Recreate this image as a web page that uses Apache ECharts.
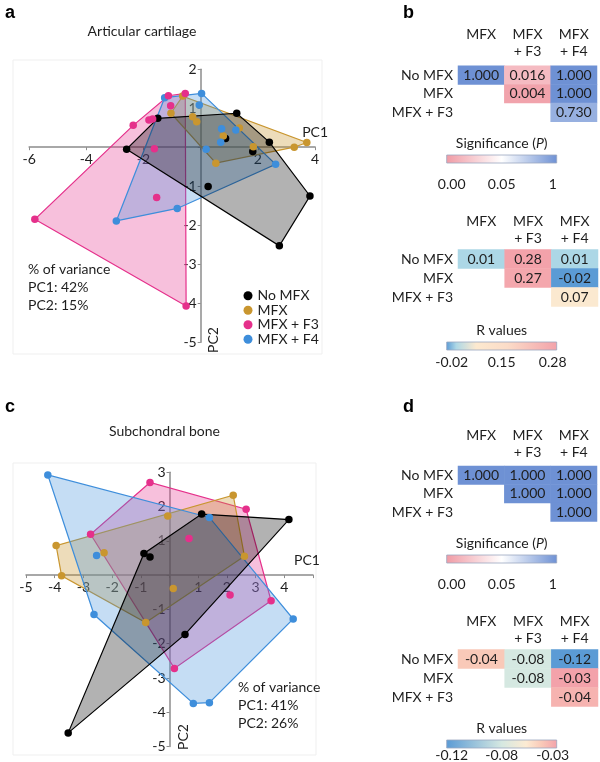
<!DOCTYPE html>
<html><head><meta charset="utf-8">
<script src="https://cdn.jsdelivr.net/npm/echarts@6/dist/echarts.min.js"></script>
<style>html,body{margin:0;padding:0;background:#fff}#c{width:600px;height:762px}</style>
</head><body><div id="c"></div>
<script>
// ---------------- DATA ----------------
const groups = ['No MFX', 'MFX', 'MFX + F3', 'MFX + F4'];
// Panel a: Articular cartilage (PC1, PC2)
const aNoMFX = [[-2.59,-0.05],[-1.50,0.74],[1.26,0.87],[2.40,0.13],[1.82,-0.11],[0.87,0.22],[0.26,-1.01],[3.82,-1.25],[2.75,-2.53]];
const aMFX   = [[-0.63,1.31],[-1.04,0.87],[-0.28,0.78],[-0.14,0.65],[1.35,0.49],[0.79,0.29],[1.84,0.01],[3.27,0.00],[3.71,0.12],[0.53,-0.41]];
const aF3    = [[-1.13,1.32],[-0.54,1.38],[-1.05,1.06],[-1.81,0.70],[-1.68,0.72],[-2.36,0.56],[-1.62,-0.04],[-1.54,-1.29],[-5.80,-1.85],[-0.51,-4.07]];
const aF4    = [[-1.26,1.27],[0.03,1.38],[-0.05,1.08],[0.73,0.47],[1.23,0.44],[0.70,0.13],[0.19,-0.05],[2.62,-0.44],[-0.82,-1.57],[-2.95,-1.89]];
// Panel c: Subchondral bone
const cNoMFX = [[-0.89,0.63],[-0.68,0.53],[1.12,1.78],[4.16,1.62],[0.54,-1.73],[-3.53,-4.60]];
const cMFX   = [[-3.95,0.86],[-3.76,-0.02],[-2.28,0.65],[-0.06,1.72],[0.13,-0.39],[2.22,2.33],[2.61,0.55],[-0.83,-1.38]];
const cF3    = [[-0.68,2.70],[-2.75,1.19],[0.68,1.07],[2.67,1.92],[2.11,-0.58],[3.54,-0.75],[0.17,-2.72]];
const cF4    = [[-4.24,2.92],[-2.54,0.57],[1.39,1.68],[4.31,-1.28],[1.39,-3.72],[0.83,-3.74],[-2.63,-1.15]];
const varianceA = ['% of variance', 'PC1: 42%', 'PC2: 15%'];
const varianceC = ['% of variance', 'PC1: 41%', 'PC2: 26%'];
// Tables b and d
const rowLabels = ['No MFX', 'MFX', 'MFX + F3'];
const colLabels = ['MFX', 'MFX\n+ F3', 'MFX\n+ F4'];
const sigB = [[1.000, 0.016, 1.000], [null, 0.004, 1.000], [null, null, 0.730]];
const rB   = [[0.01, 0.28, 0.01], [null, 0.27, -0.02], [null, null, 0.07]];
const sigD = [[1.000, 1.000, 1.000], [null, 1.000, 1.000], [null, null, 1.000]];
const rD   = [[-0.044, -0.08, -0.12], [null, -0.08, -0.03], [null, null, -0.036]];
const sigTicks = [0, 0.05, 1];
const sigTickLabels = ['0.00', '0.05', '1'];
const rBTicks = [-0.02, 0.15, 0.28];
const rDTicks = [-0.12, -0.08, -0.03];

// ---------------- STYLE ----------------
const FONT = 'Lato, "Open Sans", "Liberation Sans", sans-serif';
const TXT = '#1e1e1e';
const AXC = '#8c8c8c';
const COL = {
  'No MFX':   {c: '#000000', f: 'rgba(0,0,0,0.30)'},
  'MFX':      {c: '#C9962F', f: 'rgba(201,150,47,0.33)'},
  'MFX + F3': {c: '#E5308B', f: 'rgba(229,48,139,0.30)'},
  'MFX + F4': {c: '#3E8EDB', f: 'rgba(62,142,219,0.30)'}
};
const sigStops = [[0,'#F09BA5'],[0.5,'#FFFFFF'],[1,'#6E91D4']];
const rBStops  = [[0,'#5B9BD5'],[0.09,'#AED8E6'],[0.27,'#FDE9CF'],[0.55,'#FBDCC8'],[1,'#F3A2AA']];
const rDStops  = [[0,'#5B9BD5'],[0.5,'#D5E8E1'],[0.72,'#FCEBD3'],[0.86,'#F9C9B8'],[1,'#F3A2AA']];

// ---------------- HELPERS ----------------
function convexHull(pts){
  const p = pts.slice().sort((a,b)=>a[0]-b[0]||a[1]-b[1]);
  const cross=(o,a,b)=>(a[0]-o[0])*(b[1]-o[1])-(a[1]-o[1])*(b[0]-o[0]);
  const lower=[]; for(const q of p){while(lower.length>=2&&cross(lower[lower.length-2],lower[lower.length-1],q)<=0)lower.pop();lower.push(q);}
  const upper=[]; for(let i=p.length-1;i>=0;i--){const q=p[i];while(upper.length>=2&&cross(upper[upper.length-2],upper[upper.length-1],q)<=0)upper.pop();upper.push(q);}
  upper.pop(); lower.pop(); return lower.concat(upper);
}
function hex(h){return [1,3,5].map(i=>parseInt(h.substr(i,2),16));}
function colorAt(stops,t){
  t=Math.max(0,Math.min(1,t));
  for(let i=1;i<stops.length;i++){
    if(t<=stops[i][0]){
      const a=hex(stops[i-1][1]), b=hex(stops[i][1]);
      const k=(t-stops[i-1][0])/(stops[i][0]-stops[i-1][0]);
      return 'rgb('+a.map((v,j)=>Math.round(v+(b[j]-v)*k)).join(',')+')';
    }
  }
  return stops[stops.length-1][1];
}
function posOf(v,ticks){
  if(v<=ticks[1]) return 0.5*(v-ticks[0])/(ticks[1]-ticks[0]);
  return 0.5+0.5*(v-ticks[1])/(ticks[2]-ticks[1]);
}

const grids=[], xAxes=[], yAxes=[], series=[], graphic=[];
function pcaPanel(gi, grid, xr, yr, xInt, sets, pc1Gap){
  grids.push(grid);
  // place axes through the origin by offsetting them from the grid edges
  const xOff = -grid.height*(0-yr[0])/(yr[1]-yr[0]);
  const yOff = -grid.width*(0-xr[0])/(xr[1]-xr[0]);
  xAxes.push({gridIndex:gi, type:'value', min:xr[0], max:xr[1], interval:xInt, position:'bottom', offset:xOff,
    axisLine:{onZero:false, lineStyle:{color:AXC, width:1.5}},
    axisTick:{show:true, length:3, lineStyle:{color:AXC}},
    splitLine:{show:false},
    axisLabel:{fontSize:14, color:TXT, fontFamily:FONT, margin:5, formatter:v=>(v===0||v>=xr[2])?'':String(v)},
    name:'PC1', nameLocation:'end', nameGap:pc1Gap,
    nameTextStyle:{fontSize:14, color:TXT, fontFamily:FONT, align:'center', verticalAlign:'bottom', padding:[0,0,8,0]}});
  yAxes.push({gridIndex:gi, type:'value', min:yr[0], max:yr[1], interval:1, position:'left', offset:yOff,
    axisLine:{onZero:false, lineStyle:{color:AXC, width:1.5}},
    axisTick:{show:true, length:3, lineStyle:{color:AXC}},
    splitLine:{show:false},
    axisLabel:{fontSize:14, color:TXT, fontFamily:FONT, margin:4, formatter:v=>v===0?'':String(v)}});
  const hullOrder=['MFX + F3','MFX','MFX + F4','No MFX'];
  hullOrder.forEach(g=>{
    const hull=convexHull(sets[g]);
    series.push({type:'custom', name:g+' hull', xAxisIndex:gi, yAxisIndex:gi, silent:true, z:2,
      data:[hull[0]],
      renderItem:(params,api)=>({type:'polygon', shape:{points:hull.map(p=>api.coord(p))},
        style:{fill:COL[g].f, stroke:COL[g].c, lineWidth:1.2}})});
  });
  ['No MFX','MFX','MFX + F4','MFX + F3'].forEach(g=>{
    series.push({type:'scatter', name:g, xAxisIndex:gi, yAxisIndex:gi, z:4, silent:true,
      symbol:'circle', symbolSize:7.5, data:sets[g], itemStyle:{color:COL[g].c, opacity:1}});
  });
}
pcaPanel(0, {left:29.1, top:69.2, width:286, height:273}, [-6,4,99], [-5,2], 2,
  {'No MFX':aNoMFX,'MFX':aMFX,'MFX + F3':aF3,'MFX + F4':aF4}, 0);
pcaPanel(1, {left:26, top:472.2, width:287, height:274.4}, [-5,5,5], [-5,3], 1,
  {'No MFX':cNoMFX,'MFX':cMFX,'MFX + F3':cF3,'MFX + F4':cF4}, -6);

// tables
const tables = [
  {vals:sigB, dec:3, stops:sigStops, ticks:sigTicks, tickLabels:sigTickLabels, title:'sig', grid:{left:458, top:65.75, width:139, height:56}, hm:39.5, titleY:143, barY:155, labY:184},
  {vals:rB, dec:2, stops:rBStops, ticks:rBTicks, tickLabels:rBTicks.map(v=>v.toFixed(2)), title:'R values', grid:{left:458, top:249.5, width:140, height:57}, hm:36.5, titleY:330, barY:342, labY:362},
  {vals:sigD, dec:3, stops:sigStops, ticks:sigTicks, tickLabels:sigTickLabels, title:'sig', grid:{left:458, top:466, width:139, height:55.5}, hm:39.5, titleY:543, barY:555, labY:584},
  {vals:rD, dec:2, stops:rDStops, ticks:rDTicks, tickLabels:rDTicks.map(v=>v.toFixed(2)), title:'R values', grid:{left:458, top:649.5, width:140, height:57}, hm:36.5, titleY:728, barY:740, labY:755}
];
tables.forEach((t,k)=>{
  const gi = 2+k;
  grids.push(t.grid);
  xAxes.push({gridIndex:gi, type:'category', data:colLabels, position:'top',
    axisLine:{show:false}, axisTick:{show:false}, splitLine:{show:false},
    axisLabel:{interval:0, fontSize:14, color:TXT, fontFamily:FONT, verticalAlign:'top', lineHeight:17, margin:t.hm}});
  yAxes.push({gridIndex:gi, type:'category', data:rowLabels, inverse:true,
    axisLine:{show:false}, axisTick:{show:false}, splitLine:{show:false},
    axisLabel:{fontSize:14, color:TXT, fontFamily:FONT, margin:5}});
  const data=[];
  t.vals.forEach((row,r)=>row.forEach((v,c)=>{
    if(v===null) return;
    data.push({value:[c,r,v], itemStyle:{color:colorAt(t.stops,posOf(v,t.ticks))}});
  }));
  series.push({type:'heatmap', xAxisIndex:gi, yAxisIndex:gi, data, silent:true,
    label:{show:true, fontSize:14, color:TXT, fontFamily:FONT, formatter:p=>p.value[2].toFixed(t.dec)},
    emphasis:{disabled:true}});
  // colour bar
  const bx=446.7, bw=110;
  graphic.push({type:'rect', shape:{x:bx, y:t.barY, width:bw, height:8},
    style:{fill:{type:'linear', x:0, y:0, x2:1, y2:0, colorStops:t.stops.map(s=>({offset:s[0], color:s[1]}))}, stroke:'#9aa6bf', lineWidth:0.8}});
  const titleText = t.title==='sig' ? '{n|Significance (}{i|P}{n|)}' : '{n|R values}';
  graphic.push({type:'text', x:bx+bw/2, y:t.titleY, style:{text:titleText, align:'center', verticalAlign:'middle',
    rich:{n:{fontSize:14, fontFamily:FONT, fill:TXT}, i:{fontSize:14, fontFamily:FONT, fontStyle:'italic', fill:TXT}}}});
  const lx=[bx+5, bx+bw/2, bx+bw-4];
  t.tickLabels.forEach((s,i)=>graphic.push({type:'text', x:lx[i], y:t.labY,
    style:{text:s, fontSize:14, fontFamily:FONT, fill:TXT, align:'center', verticalAlign:'middle'}}));
});

// panel letters, titles, notes
[['a',5,4],['b',403,4],['c',5,398],['d',403,398]].forEach(([s,x,y])=>graphic.push({type:'text', x, y,
  style:{text:s, fontSize:18, fontWeight:'bold', fontFamily:'"Liberation Sans", Arial, sans-serif', fill:'#000'}}));
graphic.push({type:'text', x:28, y:287, style:{text:varianceA.join('\n'), fontSize:14, lineHeight:18, fontFamily:FONT, fill:TXT, verticalAlign:'middle'}});
graphic.push({type:'text', x:238, y:705, style:{text:varianceC.join('\n'), fontSize:14, lineHeight:18, fontFamily:FONT, fill:TXT, verticalAlign:'middle'}});
graphic.push({type:'text', x:213, y:340, rotation:Math.PI/2, style:{text:'PC2', fontSize:14, fontFamily:FONT, fill:TXT, align:'center', verticalAlign:'middle'}});
graphic.push({type:'text', x:183, y:737, rotation:Math.PI/2, style:{text:'PC2', fontSize:14, fontFamily:FONT, fill:TXT, align:'center', verticalAlign:'middle'}});
graphic.push({type:'rect', z:-10, shape:{x:13, y:60, width:309, height:294}, style:{fill:'none', stroke:'#efefef', lineWidth:1}});
graphic.push({type:'rect', z:-10, shape:{x:13, y:463, width:303, height:292}, style:{fill:'none', stroke:'#efefef', lineWidth:1}});

const chart = echarts.init(document.getElementById('c'), null, {renderer:'canvas'});
chart.setOption({
  animation:false,
  textStyle:{fontFamily:FONT},
  title:[
    {text:'Articular cartilage', left:142, top:24, textAlign:'center', padding:0, textStyle:{fontSize:14, fontWeight:'normal', color:TXT, fontFamily:FONT}},
    {text:'Subchondral bone', left:164.5, top:424, textAlign:'center', padding:0, textStyle:{fontSize:14, fontWeight:'normal', color:TXT, fontFamily:FONT}}
  ],
  legend:{data:groups, orient:'vertical', left:243.5, top:288.7, padding:0, itemGap:0.5, itemWidth:9, itemHeight:9, icon:'circle', selectedMode:false,
    textStyle:{fontSize:14, lineHeight:14, color:TXT, fontFamily:FONT}},
  grid:grids, xAxis:xAxes, yAxis:yAxes, series, graphic
});
</script></body></html>
